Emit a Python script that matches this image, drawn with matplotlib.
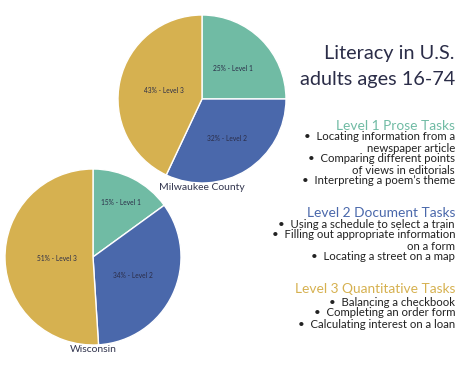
import numpy as np
import matplotlib.pyplot as plt

levels = ['Level 1', 'Level 2', 'Level 3']
milwaukee = [25, 32, 43]
wisconsin = [15, 34, 51]

title_lines = ['Literacy in U.S.', 'adults ages 16-74']
headings = ['Level 1 Prose Tasks', 'Level 2 Document Tasks', 'Level 3 Quantitative Tasks']
tasks = [
    ['\u2022  Locating information from a', 'newspaper article',
     '\u2022  Comparing different points', 'of views in editorials',
     '\u2022  Interpreting a poem\u2019s theme'],
    ['\u2022  Using a schedule to select a train', '\u2022  Filling out appropriate information',
     'on a form', '\u2022  Locating a street on a map'],
    ['\u2022  Balancing a checkbook', '\u2022  Completing an order form',
     '\u2022  Calculating interest on a loan'],
]

colors = ['#70bba4', '#4a68ab', '#d6b150']
navy = '#2b2d48'
plt.rcParams['font.family'] = ['Lato', 'DejaVu Sans']

W, H = 475, 367
fig = plt.figure(figsize=(W / 100, H / 100), dpi=100)
ax = fig.add_axes([0, 0, 1, 1])
ax.set_xlim(0, W)
ax.set_ylim(0, H)
ax.set_aspect('equal')
ax.axis('off')


def draw_pie(values, cx, cy, r, dists, name, name_y):
    wedges, _ = ax.pie(values, colors=colors, startangle=90, counterclock=False,
                       center=(cx, H - cy), radius=r,
                       wedgeprops=dict(edgecolor='white', linewidth=1.0))
    for w, v, lev, d in zip(wedges, values, levels, dists):
        a = np.deg2rad((w.theta1 + w.theta2) / 2)
        ax.text(cx + d * r * np.cos(a), H - cy + d * r * np.sin(a),
                f'{v}% - {lev}', fontsize=4.8, color=navy, ha='center', va='center')
    ax.text(cx, H - name_y, name, fontsize=7.5, color='#33364f', ha='center', va='center')


draw_pie(milwaukee, 202, 99, 84, [0.52, 0.55, 0.47], 'Milwaukee County', 187)
draw_pie(wisconsin, 93, 257, 88, [0.7, 0.5, 0.41], 'Wisconsin', 350)

ax.set_xlim(0, W)
ax.set_ylim(0, H)

xr = 455
for txt, y in zip(title_lines, [54, 79]):
    ax.text(xr, H - y, txt, fontsize=14.3, color=navy, ha='right', va='center')

head_y = [126, 213, 289]
line_y = [[137, 148, 159, 170, 181], [224, 235, 246, 257], [302, 313, 325]]
for i in range(3):
    ax.text(xr, H - head_y[i], headings[i], fontsize=9.9, color=colors[i], ha='right', va='center')
    for txt, y in zip(tasks[i], line_y[i]):
        ax.text(xr, H - y, txt, fontsize=8.2, color='#222222', ha='right', va='center')

fig.savefig('out.png', dpi=100)
